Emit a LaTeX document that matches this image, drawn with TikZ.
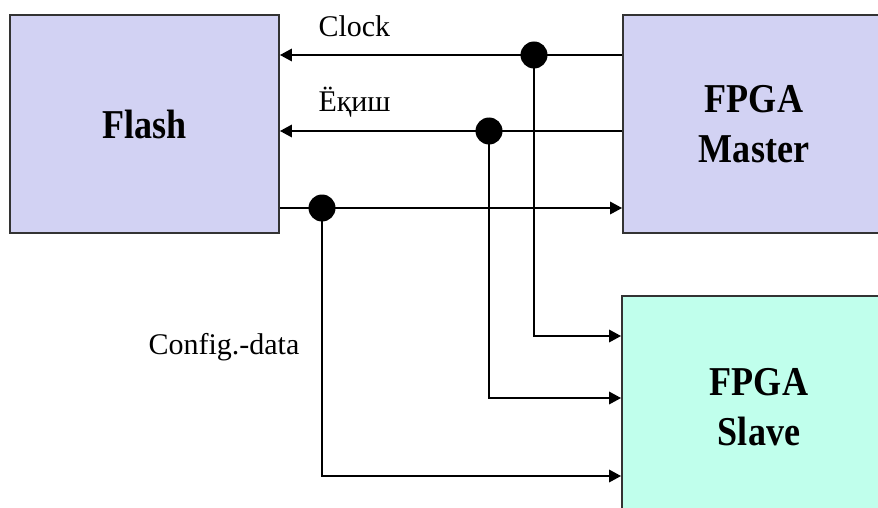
\documentclass[tikz,border=0pt]{standalone}
\usepackage{fontspec}
\setmainfont{Liberation Serif}
\usetikzlibrary{arrows.meta}
\definecolor{flashblue}{RGB}{210, 210, 243}
\definecolor{slavecyan}{RGB}{192, 255, 236}
\newcommand{\narrowtext}[1]{\scalebox{0.88}[1]{#1}}
\tikzset{
  blockbox/.style={draw=black!80, line width=1.6pt, inner sep=0pt,
    align=center, font=\fontsize{41}{50}\selectfont\bfseries},
  sigline/.style={line width=2.8pt, -{Triangle[length=12pt,width=12pt]}},
  sigdot/.style={circle, fill=black, minimum width=25pt, minimum height=27pt, inner sep=0pt},
  siglabel/.style={anchor=base west, font=\fontsize{30}{36}\selectfont}
}

\begin{document}
\begin{tikzpicture}[x=1pt, y=-1pt]
        \useasboundingbox (0,0) rectangle (878,508);
        \clip (0,0) rectangle (878,508);
        % Blocks
        \node[blockbox, fill=flashblue, minimum width=269pt, minimum height=218pt] (flash) at (144.5,124) {\narrowtext{Flash}};
        \node[blockbox, fill=flashblue, minimum width=262pt, minimum height=218pt] (master) at (754,124) {\narrowtext{FPGA}\\\narrowtext{Master}};
        \node[blockbox, fill=slavecyan, minimum width=274pt, minimum height=222pt] (slave) at (759,407) {\narrowtext{FPGA}\\\narrowtext{Slave}};
        % Tap points
        \coordinate (clkdot) at (534,55);
        \coordinate (seldot) at (489,131);
        \coordinate (cfgdot) at (322,208);
        \coordinate (clkin) at (622,336);
        \coordinate (selin) at (622,398);
        \coordinate (cfgin) at (622,476);
        % Master to Flash
        \draw[sigline] (clkdot -| master.west) -- (clkdot -| flash.east);
        \draw[sigline] (seldot -| master.west) -- (seldot -| flash.east);
        % Flash to Master
        \draw[sigline] (cfgdot -| flash.east) -- (cfgdot -| master.west);
        % Branches to Slave
        \draw[sigline] (clkdot) |- (clkin -| slave.west);
        \draw[sigline] (seldot) |- (selin -| slave.west);
        \draw[sigline] (cfgdot) |- (cfgin -| slave.west);
        \node[sigdot] (clkjoin) at (clkdot) {};
        \node[sigdot] (seljoin) at (seldot) {};
        \node[sigdot] (cfgjoin) at (cfgdot) {};
        % Labels
        \node[siglabel] (clklabel) at (315,37) {Clock};
        \node[siglabel] (sellabel) at (315,112) {Ёқиш};
        \node[siglabel] (cfglabel) at (145,354) {Config.-data};
    \end{tikzpicture}
\end{document}
